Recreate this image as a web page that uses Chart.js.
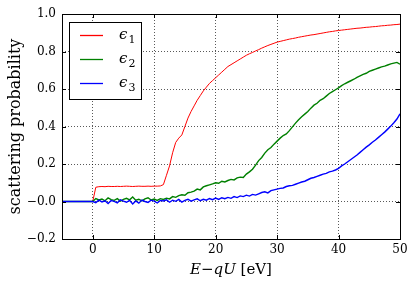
<!DOCTYPE html>
<html>
<head>
<meta charset="utf-8">
<script src="https://cdn.jsdelivr.net/npm/chart.js@4/dist/chart.umd.min.js"></script>
<style>
  html, body { margin: 0; padding: 0; background: #fff; }
  canvas { display: block; }
</style>
</head>
<body>
<canvas id="scatterChart" width="415" height="286"></canvas>
<script>
// energy grid: -5, then 0 ... 50 in 0.5 eV steps
const energies = [-5].concat(Array.from({ length: 101 }, (_, i) => i * 0.5));

const seriesLabels = ['ϵ_1', 'ϵ_2', 'ϵ_3'];
const seriesColors = ['#ff0000', '#008000', '#0000ff'];

const eps1 = [0,
  0, 0.076, 0.079, 0.080, 0.079, 0.081, 0.080, 0.080, 0.081, 0.080,
  0.081, 0.082, 0.081, 0.080, 0.081, 0.082, 0.081, 0.081, 0.082, 0.081,
  0.082, 0.082, 0.083, 0.090, 0.140, 0.190, 0.260, 0.315, 0.338, 0.355,
  0.400, 0.445, 0.480, 0.510, 0.540, 0.565, 0.590, 0.610, 0.630, 0.645,
  0.660, 0.675, 0.690, 0.705, 0.720, 0.730, 0.740, 0.750, 0.760, 0.770,
  0.780, 0.788, 0.795, 0.803, 0.810, 0.818, 0.825, 0.832, 0.838, 0.844,
  0.850, 0.854, 0.858, 0.862, 0.866, 0.869, 0.872, 0.876, 0.879, 0.882,
  0.885, 0.888, 0.890, 0.893, 0.896, 0.899, 0.902, 0.905, 0.907, 0.910,
  0.912, 0.914, 0.916, 0.918, 0.920, 0.922, 0.924, 0.925, 0.927, 0.929,
  0.930, 0.932, 0.933, 0.935, 0.937, 0.938, 0.940, 0.941, 0.943, 0.944,
  0.946];

const eps2 = [0,
  0.000, 0.016, 0.008, 0.013, 0.004, 0.019, 0.010, 0.006, 0.015, 0.002,
  0.011, 0.017, 0.009, 0.024, 0.007, 0.012, 0.003, 0.014, 0.020, 0.008,
  0.013, 0.006, 0.015, 0.011, 0.018, 0.014, 0.026, 0.022, 0.031, 0.036,
  0.033, 0.047, 0.050, 0.055, 0.066, 0.062, 0.078, 0.084, 0.089, 0.094,
  0.100, 0.097, 0.108, 0.104, 0.112, 0.118, 0.115, 0.126, 0.130, 0.128,
  0.146, 0.158, 0.172, 0.194, 0.218, 0.235, 0.258, 0.276, 0.288, 0.306,
  0.322, 0.338, 0.352, 0.360, 0.378, 0.398, 0.418, 0.436, 0.452, 0.466,
  0.480, 0.498, 0.514, 0.524, 0.540, 0.548, 0.562, 0.576, 0.586, 0.596,
  0.606, 0.618, 0.628, 0.636, 0.644, 0.652, 0.662, 0.670, 0.678, 0.684,
  0.694, 0.700, 0.706, 0.712, 0.718, 0.722, 0.728, 0.734, 0.738, 0.742,
  0.732];

const eps3 = [0,
  0.000, -0.006, 0.007, -0.002, 0.004, -0.011, 0.005, 0.001, -0.007, 0.009,
  0.002, -0.004, 0.006, -0.013, 0.003, -0.009, 0.008, 0.000, -0.005, 0.007,
  0.002, -0.008, 0.006, 0.003, 0.009, -0.004, 0.007, 0.001, 0.011, -0.003,
  0.006, 0.012, 0.002, 0.009, 0.014, 0.004, 0.012, 0.007, 0.016, 0.010,
  0.018, 0.011, 0.020, 0.015, 0.022, 0.017, 0.026, 0.021, 0.030, 0.026,
  0.034, 0.029, 0.038, 0.034, 0.041, 0.048, 0.052, 0.046, 0.058, 0.062,
  0.066, 0.070, 0.072, 0.080, 0.084, 0.086, 0.092, 0.098, 0.104, 0.108,
  0.116, 0.124, 0.128, 0.134, 0.140, 0.146, 0.150, 0.158, 0.162, 0.168,
  0.176, 0.190, 0.200, 0.212, 0.224, 0.236, 0.248, 0.262, 0.276, 0.290,
  0.302, 0.316, 0.328, 0.342, 0.356, 0.370, 0.386, 0.402, 0.420, 0.440,
  0.468];

const xTicks = [0, 10, 20, 30, 40, 50];

const serif = '"DejaVu Serif", serif';

function toPoints(ys) {
  return energies.map((x, i) => ({ x: x, y: ys[i] }));
}

// frame, inward ticks, legend and x title in matplotlib style
const mplDecor = {
  id: 'mplDecor',
  afterDraw(chart) {
    const ctx = chart.ctx;
    const a = chart.chartArea;
    const xs = chart.scales.x, ys = chart.scales.y;
    ctx.save();
    ctx.strokeStyle = '#000';
    ctx.lineWidth = 1;
    ctx.beginPath();
    xTicks.forEach(v => {
      const px = Math.round(xs.getPixelForValue(v)) + 0.5;
      ctx.moveTo(px, a.bottom); ctx.lineTo(px, a.bottom - 4);
      ctx.moveTo(px, a.top); ctx.lineTo(px, a.top + 4);
    });
    ys.ticks.forEach(t => {
      const py = Math.round(ys.getPixelForValue(t.value)) + 0.5;
      ctx.moveTo(a.left, py); ctx.lineTo(a.left + 4, py);
      ctx.moveTo(a.right, py); ctx.lineTo(a.right - 4, py);
    });
    ctx.stroke();
    ctx.strokeRect(Math.round(a.left) + 0.5, Math.round(a.top) + 0.5,
      Math.round(a.right - a.left), Math.round(a.bottom - a.top));

    // legend
    const lx = a.left + 7, ly = a.top + 8, lw = 72, lh = 77;
    ctx.fillStyle = '#fff';
    ctx.fillRect(lx, ly, lw, lh);
    ctx.strokeStyle = '#000';
    ctx.strokeRect(lx + 0.5, ly + 0.5, lw, lh);
    seriesLabels.forEach((label, i) => {
      const y = ly + 12.5 + i * 24;
      ctx.strokeStyle = seriesColors[i];
      ctx.lineWidth = 1.3;
      ctx.beginPath();
      ctx.moveTo(lx + 11, Math.round(y) + 0.5);
      ctx.lineTo(lx + 34, Math.round(y) + 0.5);
      ctx.stroke();
      const parts = label.split('_');
      ctx.fillStyle = '#000';
      ctx.textBaseline = 'alphabetic';
      ctx.font = 'italic 15px ' + serif;
      ctx.fillText(parts[0], lx + 50, y + 4);
      const w = ctx.measureText(parts[0]).width;
      ctx.font = '11px ' + serif;
      ctx.fillText(parts[1], lx + 50 + w + 1, y + 8);
    });

    // x axis title: E−qU [eV]
    const segs = [['E', 'italic'], ['−', 'normal'], ['qU', 'italic'], [' [eV]', 'normal']];
    ctx.fillStyle = '#000';
    let total = 0;
    segs.forEach(s => { ctx.font = s[1] + ' 15px ' + serif; total += ctx.measureText(s[0]).width; });
    let cx = (a.left + a.right) / 2 - total / 2;
    segs.forEach(s => {
      ctx.font = s[1] + ' 15px ' + serif;
      ctx.fillText(s[0], cx, 274);
      cx += ctx.measureText(s[0]).width;
    });
    ctx.restore();
  }
};

new Chart(document.getElementById('scatterChart').getContext('2d'), {
  type: 'line',
  data: {
    datasets: [0, 1, 2].map(i => ({
      label: seriesLabels[i],
      data: toPoints([eps1, eps2, eps3][i]),
      borderColor: seriesColors[i],
      borderWidth: i === 0 ? 1 : 1.4,
      pointRadius: 0,
      tension: 0,
      fill: false,
      order: 2 - i
    }))
  },
  options: {
    responsive: false,
    animation: false,
    devicePixelRatio: 1,
    layout: { padding: { top: 14, right: 15, left: 0, bottom: 0 } },
    plugins: { legend: { display: false }, tooltip: { enabled: false } },
    scales: {
      x: {
        type: 'linear',
        min: -5,
        max: 50,
        afterBuildTicks(scale) { scale.ticks = xTicks.map(v => ({ value: v })); },
        afterFit(scale) { scale.height = 47; },
        ticks: { color: '#000', font: { family: serif, size: 12 }, padding: 4, maxRotation: 0 },
        grid: { color: 'rgba(0,0,0,0.65)', drawTicks: false },
        border: { display: false, dash: [1, 2] }
      },
      y: {
        min: -0.2,
        max: 1.0,
        afterFit(scale) { scale.width = 62; },
        ticks: {
          stepSize: 0.2,
          color: '#000',
          padding: 6,
          font: { family: serif, size: 12 },
          callback: v => (v < 0 ? '−' : '') + Math.abs(v).toFixed(1)
        },
        grid: { color: 'rgba(0,0,0,0.65)', drawTicks: false },
        border: { display: false, dash: [1, 2] },
        title: {
          display: true,
          text: 'scattering probability',
          color: '#000',
          font: { family: serif, size: 16 },
          padding: { top: 6, bottom: 0 }
        }
      }
    }
  },
  plugins: [mplDecor]
});
</script>
</body>
</html>
